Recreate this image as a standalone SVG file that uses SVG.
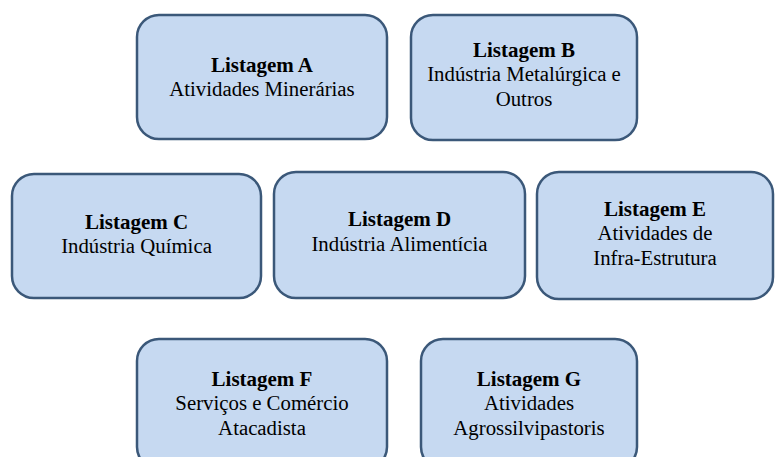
<svg xmlns="http://www.w3.org/2000/svg" width="776" height="457" viewBox="0 0 776 457">
<style>
.box{fill:#c6d9f1;stroke:#3b5879;stroke-width:2.5}
text{font-family:"Liberation Serif","Times New Roman",serif;font-size:20.8px;fill:#000;text-anchor:middle}
.t{font-weight:bold;font-size:21px}
</style>
<rect width="776" height="457" fill="#ffffff"/>
<g id="connectors"></g>
<g id="nodeA">
<rect class="box" x="137" y="15" width="250" height="124" rx="22"/>
<text class="t" x="262" y="72">Listagem A</text>
<text x="262" y="96">Atividades Minerárias</text>
</g>
<g id="nodeB">
<rect class="box" x="411" y="15" width="226" height="125" rx="22"/>
<text class="t" x="524" y="57">Listagem B</text>
<text x="524" y="81">Indústria Metalúrgica e</text>
<text x="524" y="106">Outros</text>
</g>
<g id="nodeC">
<rect class="box" x="12" y="174" width="249" height="124" rx="22"/>
<text class="t" x="136.5" y="229">Listagem C</text>
<text x="136.5" y="253">Indústria Química</text>
</g>
<g id="nodeD">
<rect class="box" x="274" y="172" width="251" height="126" rx="22"/>
<text class="t" x="399.5" y="226">Listagem D</text>
<text x="399.5" y="251">Indústria Alimentícia</text>
</g>
<g id="nodeE">
<rect class="box" x="537" y="172" width="236" height="127" rx="22"/>
<text class="t" x="655" y="216">Listagem E</text>
<text x="655" y="240">Atividades de</text>
<text x="655" y="265">Infra-Estrutura</text>
</g>
<g id="nodeF">
<rect class="box" x="137" y="339" width="250" height="130" rx="22"/>
<text class="t" x="262" y="386">Listagem F</text>
<text x="262" y="410">Serviços e Comércio</text>
<text x="262" y="435">Atacadista</text>
</g>
<g id="nodeG">
<rect class="box" x="421" y="339" width="216" height="130" rx="22"/>
<text class="t" x="529" y="386">Listagem G</text>
<text x="529" y="410">Atividades</text>
<text x="529" y="435">Agrossilvipastoris</text>
</g>
</svg>
